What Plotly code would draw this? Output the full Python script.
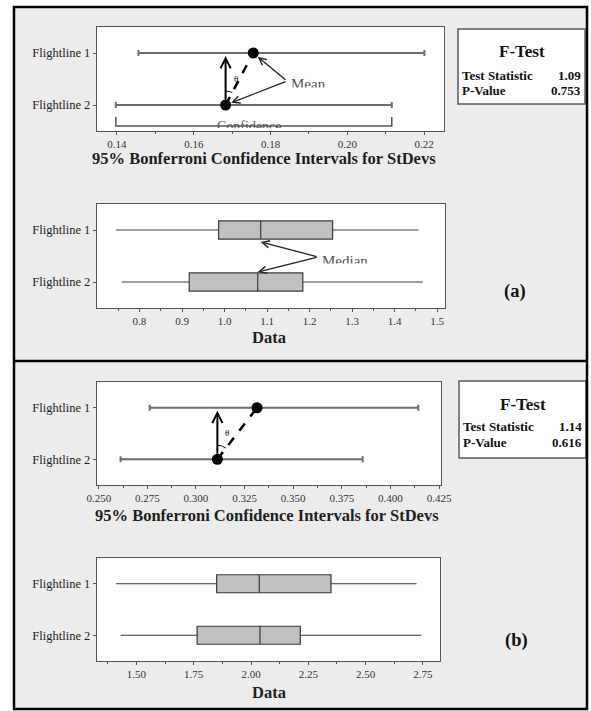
import numpy as np
import plotly.graph_objects as go

W, H = 591, 711

# ---------------- data ----------------
categories = ["Flightline 1", "Flightline 2"]

# (a) 95% Bonferroni confidence intervals for StDevs
ci_a_lower = [0.1456, 0.1397]
ci_a_stdev = [0.1755, 0.1683]
ci_a_upper = [0.2201, 0.2116]
# (a) boxplot statistics
box_a_min = [0.745, 0.758]
box_a_q1 = [0.986, 0.917]
box_a_median = [1.085, 1.078]
box_a_q3 = [1.254, 1.184]
box_a_max = [1.456, 1.466]
ftest_a = [1.09, 0.753]

# (b) 95% Bonferroni confidence intervals for StDevs
ci_b_lower = [0.2762, 0.2612]
ci_b_stdev = [0.3314, 0.3110]
ci_b_upper = [0.4143, 0.3857]
# (b) boxplot statistics
box_b_min = [1.411, 1.431]
box_b_q1 = [1.850, 1.765]
box_b_median = [2.036, 2.039]
box_b_q3 = [2.349, 2.215]
box_b_max = [2.722, 2.743]
ftest_b = [1.14, 0.616]

ftest_labels = ["Test Statistic", "P-Value"]

ci_a_ticks = [0.14, 0.16, 0.18, 0.20, 0.22]
ci_a_ticktext = ["0.14", "0.16", "0.18", "0.20", "0.22"]
box_a_ticks = [0.8, 0.9, 1.0, 1.1, 1.2, 1.3, 1.4, 1.5]
box_a_ticktext = ["0.8", "0.9", "1.0", "1.1", "1.2", "1.3", "1.4", "1.5"]
ci_b_ticks = [0.250, 0.275, 0.300, 0.325, 0.350, 0.375, 0.400, 0.425]
ci_b_ticktext = ["0.250", "0.275", "0.300", "0.325", "0.350", "0.375", "0.400", "0.425"]
box_b_ticks = [1.50, 1.75, 2.00, 2.25, 2.50, 2.75]
box_b_ticktext = ["1.50", "1.75", "2.00", "2.25", "2.50", "2.75"]

# ---------------- layout helpers ----------------
SERIF = "Liberation Serif, Times New Roman, serif"
ypos = [len(categories) - 1 - i for i in range(len(categories))]  # [1, 0]
YR = [-0.5, 1.5]


def px(x):
    return x / W


def py(y):
    return 1 - y / H


# pixel boxes of the four plot areas (left, top, right, bottom) and x ranges
panels = {
    "ci_a": dict(box=(97, 27, 444, 131), xr=[0.13479, 0.22521], ax="", minor=0.01),
    "box_a": dict(box=(97, 204, 445, 308), xr=[0.7001, 1.5183], ax="2", minor=0.05),
    "ci_b": dict(box=(97, 382, 441, 485), xr=[0.2491, 0.4260], ax="3", minor=0.0125),
    "box_b": dict(box=(97, 558, 440, 661), xr=[1.328, 2.8246], ax="4", minor=0.125),
}
tick_info = {
    "ci_a": (ci_a_ticks, ci_a_ticktext),
    "box_a": (box_a_ticks, box_a_ticktext),
    "ci_b": (ci_b_ticks, ci_b_ticktext),
    "box_b": (box_b_ticks, box_b_ticktext),
}

fig = go.Figure()
layout_axes = {}
for key, p in panels.items():
    l, t, r, b = p["box"]
    ax = p["ax"]
    tv, tt = tick_info[key]
    layout_axes["xaxis" + ax] = dict(
        domain=[px(l), px(r)], range=p["xr"], anchor="y" + ax, automargin=False,
        showline=True, mirror=True, linecolor="#555", linewidth=1.3,
        showgrid=False, zeroline=False, ticks="outside", ticklen=3,
        tickcolor="#555", tickmode="array", tickvals=tv, ticktext=tt,
        tickfont=dict(family=SERIF, size=11, color="#333"),
        minor=dict(ticks="outside", ticklen=2, dtick=p["minor"], tick0=tv[0],
                   tickcolor="#555"),
        fixedrange=True,
    )
    layout_axes["yaxis" + ax] = dict(
        domain=[py(b), py(t)], range=YR, anchor="x" + ax, automargin=False,
        showline=True, mirror=True, linecolor="#555", linewidth=1.3,
        showgrid=False, zeroline=False, ticks="outside", ticklen=3,
        tickcolor="#555", tickmode="array", tickvals=ypos, ticktext=categories,
        tickfont=dict(family=SERIF, size=12.5, color="#222"),
        fixedrange=True,
    )


def pxu(key):
    l, t, r, b = panels[key]["box"]
    xr = panels[key]["xr"]
    return (r - l) / (xr[1] - xr[0]), (b - t) / (YR[1] - YR[0])


def dx_data(key, x_px):
    l, t, r, b = panels[key]["box"]
    return panels[key]["xr"][0] + (x_px - l) / pxu(key)[0]


def dy_data(key, y_px):
    l, t, r, b = panels[key]["box"]
    return YR[1] - (y_px - t) / pxu(key)[1]


annotations = []
shapes = []


def add_ci_panel(key, lower, stdev, upper):
    ax = panels[key]["ax"]
    xa, ya = "x" + ax, "y" + ax
    fig.add_trace(go.Scatter(
        x=stdev, y=ypos, mode="markers", xaxis=xa, yaxis=ya,
        marker=dict(color="black", size=11),
        error_x=dict(type="data", symmetric=False,
                     array=[u - m for u, m in zip(upper, stdev)],
                     arrayminus=[m - lo for m, lo in zip(stdev, lower)],
                     color="#6e6e6e", thickness=2, width=3),
        showlegend=False, hoverinfo="skip"))
    fig.add_trace(go.Scatter(
        x=[stdev[1], stdev[0]], y=[ypos[1], ypos[0]], mode="lines",
        xaxis=xa, yaxis=ya, line=dict(color="black", width=2.5, dash="dash"),
        showlegend=False, hoverinfo="skip"))
    annotations.append(dict(
        x=stdev[1], y=ypos[0], ax=stdev[1], ay=ypos[1], xref=xa, yref=ya,
        axref=xa, ayref=ya, text="", showarrow=True, arrowhead=5, arrowsize=1,
        arrowwidth=2, arrowcolor="black", standoff=3, startstandoff=4))
    ux, uy = pxu(key)
    ddx = (stdev[0] - stdev[1]) * ux
    ddy = (ypos[0] - ypos[1]) * uy
    phi = np.arctan2(ddx, ddy)
    th = np.linspace(0, phi, 12)
    rr = 14
    fig.add_trace(go.Scatter(
        x=stdev[1] + rr * np.sin(th) / ux, y=ypos[1] + rr * np.cos(th) / uy,
        mode="lines", xaxis=xa, yaxis=ya, line=dict(color="black", width=1),
        showlegend=False, hoverinfo="skip"))
    annotations.append(dict(
        x=stdev[1] + 10 / ux, y=ypos[1] + 26 / uy, xref=xa, yref=ya,
        text="θ", showarrow=False, font=dict(family=SERIF, size=9, color="black")))


add_ci_panel("ci_a", ci_a_lower, ci_a_stdev, ci_a_upper)
add_ci_panel("ci_b", ci_b_lower, ci_b_stdev, ci_b_upper)


def clipped_label(key, text, x_left_px, y_mid_px, cut_px, width_px, size):
    """Text whose lower part is hidden, as in the reference."""
    ax = panels[key]["ax"]
    fig.add_trace(go.Scatter(
        x=[dx_data(key, x_left_px)], y=[dy_data(key, y_mid_px)], mode="text",
        text=[text], textposition="middle right",
        textfont=dict(family=SERIF, size=size, color="#555"), cliponaxis=True,
        xaxis="x" + ax, yaxis="y" + ax, showlegend=False, hoverinfo="skip"))
    shapes.append(dict(type="rect", xref="x" + ax, yref="y" + ax,
                       x0=dx_data(key, x_left_px - 2), x1=dx_data(key, x_left_px + width_px + 4),
                       y0=dy_data(key, cut_px + 7), y1=dy_data(key, cut_px),
                       fillcolor="white", line=dict(width=0), layer="above"))


# "Mean" callout (panel a)
for i in range(2):
    annotations.append(dict(
        x=ci_a_stdev[i], y=ypos[i], ax=dx_data("ci_a", 287), ay=dy_data("ci_a", 81),
        xref="x", yref="y", axref="x", ayref="y", text="", showarrow=True,
        arrowhead=5, arrowsize=1.1, arrowwidth=1.3, arrowcolor="#222", standoff=6))
clipped_label("ci_a", "Mean", 291, 85, 87.5, 36, 15)

# "Confidence" bracket (panel a)
lo2, hi2 = ci_a_lower[1], ci_a_upper[1]
fig.add_trace(go.Scatter(
    x=[lo2, lo2, hi2, hi2], y=[dy_data("ci_a", 117), dy_data("ci_a", 126),
                               dy_data("ci_a", 126), dy_data("ci_a", 117)],
    mode="lines", xaxis="x", yaxis="y", line=dict(color="#555", width=1.5),
    showlegend=False, hoverinfo="skip"))
clipped_label("ci_a", "Confidence", 217, 127, 128, 66, 14)


def add_box_panel(key, mn, q1, med, q3, mx):
    ax = panels[key]["ax"]
    for i in range(len(categories)):
        fig.add_trace(go.Box(
            orientation="h", y=[ypos[i]], q1=[q1[i]], median=[med[i]], q3=[q3[i]],
            lowerfence=[mn[i]], upperfence=[mx[i]], width=0.35,
            fillcolor="#c0c0c0", line=dict(color="#3a3a3a", width=1.2),
            whiskerwidth=0, boxpoints=False, xaxis="x" + ax, yaxis="y" + ax,
            showlegend=False, hoverinfo="skip"))


add_box_panel("box_a", box_a_min, box_a_q1, box_a_median, box_a_q3, box_a_max)
add_box_panel("box_b", box_b_min, box_b_q1, box_b_median, box_b_q3, box_b_max)

# "Median" callout (panel a boxplot)
for i, yy in enumerate([242, 272]):
    annotations.append(dict(
        x=box_a_median[i], y=dy_data("box_a", yy), ax=dx_data("box_a", 318),
        ay=dy_data("box_a", 257), xref="x2", yref="y2", axref="x2", ayref="y2",
        text="", showarrow=True, arrowhead=5, arrowsize=1.1, arrowwidth=1.3,
        arrowcolor="#222", standoff=0))
clipped_label("box_a", "Median", 322, 262, 263.5, 48, 15)

# axis titles
for txt, cx, cy in [("95% Bonferroni Confidence Intervals for StDevs", 264, 159),
                    ("Data", 269, 337),
                    ("95% Bonferroni Confidence Intervals for StDevs", 267, 515),
                    ("Data", 269, 692)]:
    annotations.append(dict(
        x=px(cx), y=py(cy), xref="paper", yref="paper", text="<b>%s</b>" % txt,
        showarrow=False, xanchor="center", yanchor="middle",
        font=dict(family=SERIF, size=16.5, color="#1e1e1e")))

# panel labels
for txt, cx, cy in [("(a)", 515, 292), ("(b)", 516, 640)]:
    annotations.append(dict(
        x=px(cx), y=py(cy), xref="paper", yref="paper", text="<b>%s</b>" % txt,
        showarrow=False, xanchor="center", yanchor="middle",
        font=dict(family=SERIF, size=18.5, color="#111")))

# F-Test boxes
for vals, (bl, bt, br, bb) in [(ftest_a, (458, 29, 585, 104)),
                               (ftest_b, (459, 381, 586, 458))]:
    shapes.append(dict(type="rect", xref="paper", yref="paper",
                       x0=px(bl), x1=px(br), y0=py(bb), y1=py(bt),
                       line=dict(color="#5a5a5a", width=1.5), fillcolor="white",
                       layer="below"))
    annotations.append(dict(
        x=px((bl + br) / 2), y=py(bt + 23), xref="paper", yref="paper",
        text="<b>F-Test</b>", showarrow=False, xanchor="center", yanchor="middle",
        font=dict(family=SERIF, size=17, color="#111")))
    fmt = ["%.2f", "%.3f"]
    for j, lab in enumerate(ftest_labels):
        yy = py(bt + 46 + 15 * j)
        annotations.append(dict(
            x=px(bl + 2), y=yy, xref="paper", yref="paper", xanchor="left",
            yanchor="middle", text="<b>%s</b>" % lab, showarrow=False,
            font=dict(family=SERIF, size=13, color="#111")))
        annotations.append(dict(
            x=px(br - 2), y=yy, xref="paper", yref="paper", xanchor="right",
            yanchor="middle", text="<b>%s</b>" % (fmt[j] % vals[j]), showarrow=False,
            font=dict(family=SERIF, size=13, color="#111")))

# white page outside the frame
for x0, y0, x1, y1 in [(0, 0, 14, 711), (587, 0, 591, 711), (0, 0, 591, 7), (0, 709, 591, 711)]:
    shapes.append(dict(type="rect", xref="paper", yref="paper", x0=px(x0), x1=px(x1),
                       y0=py(y1), y1=py(y0), fillcolor="white", line=dict(width=0),
                       layer="below"))
# outer frame and separator
shapes.append(dict(type="rect", xref="paper", yref="paper", x0=px(14), x1=px(587),
                   y0=py(709), y1=py(7), line=dict(color="black", width=2.5),
                   layer="above"))
shapes.append(dict(type="line", xref="paper", yref="paper", x0=px(14), x1=px(587),
                   y0=py(361), y1=py(361), line=dict(color="black", width=2.5),
                   layer="above"))

fig.update_layout(
    width=W, height=H, autosize=False,
    margin=dict(l=0, r=0, t=0, b=0, pad=0, autoexpand=False),
    paper_bgcolor="#ececec", plot_bgcolor="white",
    showlegend=False, annotations=annotations, shapes=shapes,
    **layout_axes,
)

fig.write_html(
    "out.html",
    config={"displayModeBar": False, "responsive": False},
    post_script="document.body.style.margin='0';",
)
